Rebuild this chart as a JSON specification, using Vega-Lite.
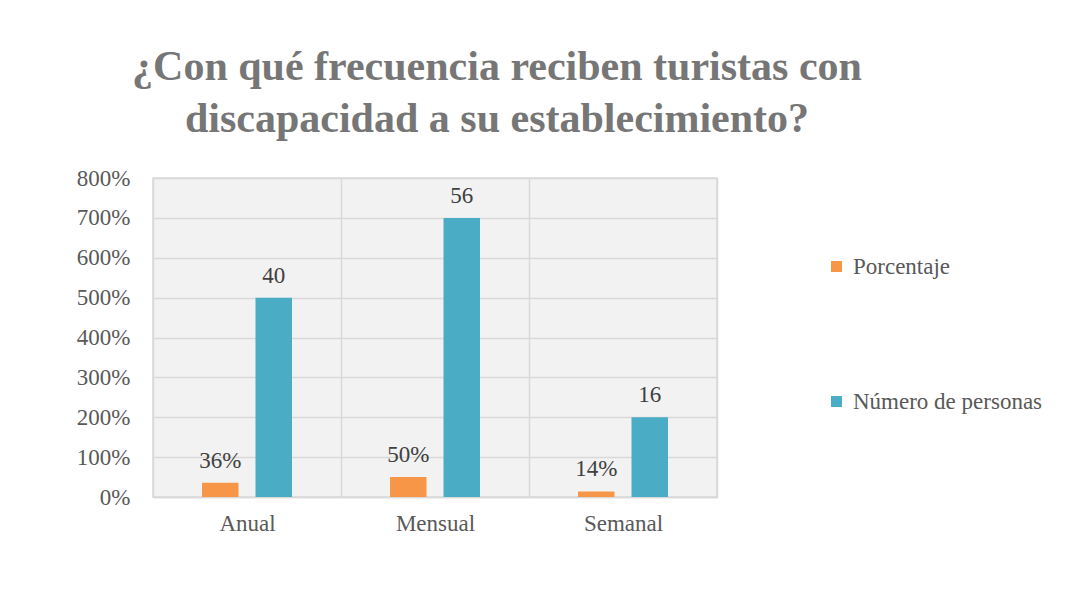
{
  "$schema": "https://vega.github.io/schema/vega-lite/v6.json",
  "width": 564,
  "height": 319,
  "autosize": {"type": "none"},
  "padding": {"left": 153, "top": 178, "right": 371, "bottom": 105},
  "background": "white",
  "title": {
    "text": ["¿Con qué frecuencia reciben turistas con", "discapacidad a su establecimiento?"],
    "font": "Liberation Serif, Times New Roman, serif",
    "fontSize": 42,
    "fontWeight": "bold",
    "color": "#767676",
    "anchor": "middle",
    "frame": "group",
    "dx": 62,
    "lineHeight": 52,
    "baseline": "bottom",
    "offset": -16
  },
  "data": {
    "values": [
      {"cat": "Anual", "serie": "Porcentaje", "valor": 0.36, "label": "36%"},
      {"cat": "Anual", "serie": "Número de personas", "valor": 5, "label": "40"},
      {"cat": "Mensual", "serie": "Porcentaje", "valor": 0.50, "label": "50%"},
      {"cat": "Mensual", "serie": "Número de personas", "valor": 7, "label": "56"},
      {"cat": "Semanal", "serie": "Porcentaje", "valor": 0.14, "label": "14%"},
      {"cat": "Semanal", "serie": "Número de personas", "valor": 2, "label": "16"}
    ]
  },
  "encoding": {
    "x": {
      "field": "cat",
      "type": "nominal",
      "sort": ["Anual", "Mensual", "Semanal"],
      "scale": {"paddingInner": 0, "paddingOuter": 0},
      "axis": {
        "title": null,
        "labelAngle": 0,
        "tickBand": "extent",
        "grid": true,
        "ticks": false,
        "domain": true,
        "domainColor": "#d9d9d9",
        "domainWidth": 1.5,
        "labelPadding": 15,
        "labelBaseline": "top"
      }
    },
    "xOffset": {
      "field": "serie",
      "type": "nominal",
      "sort": ["Porcentaje", "Número de personas"],
      "scale": {"paddingInner": 0.318, "paddingOuter": 0.916}
    },
    "y": {
      "field": "valor",
      "type": "quantitative",
      "scale": {"domain": [0, 8], "nice": false},
      "axis": {
        "title": null,
        "format": ".0%",
        "values": [0, 1, 2, 3, 4, 5, 6, 7, 8],
        "ticks": false,
        "domain": false,
        "labelPadding": 23,
        "grid": true
      }
    }
  },
  "layer": [
    {
      "mark": {"type": "bar"},
      "encoding": {
        "color": {
          "field": "serie",
          "type": "nominal",
          "scale": {"domain": ["Porcentaje", "Número de personas"], "range": ["#F79646", "#4BACC6"]},
          "legend": {
            "title": null,
            "orient": "none",
            "legendX": 672,
            "legendY": 77,
            "symbolType": "square",
            "symbolSize": 121,
            "symbolStrokeWidth": 0,
            "labelFont": "Liberation Serif, Times New Roman, serif",
            "labelFontSize": 23,
            "labelColor": "#595959",
            "labelOffset": 5,
            "labelLimit": 400,
            "rowPadding": 111
          }
        }
      }
    },
    {
      "mark": {
        "type": "text",
        "baseline": "alphabetic",
        "dy": -15,
        "font": "Liberation Serif, Times New Roman, serif",
        "fontSize": 23,
        "color": "#404040"
      },
      "encoding": {
        "text": {"field": "label", "type": "nominal"}
      }
    }
  ],
  "config": {
    "view": {"fill": "#f2f2f2", "stroke": "#d9d9d9", "strokeWidth": 1.5},
    "axis": {
      "labelFont": "Liberation Serif, Times New Roman, serif",
      "labelFontSize": 23,
      "labelColor": "#595959",
      "gridColor": "#d9d9d9",
      "gridWidth": 1.5
    }
  }
}
